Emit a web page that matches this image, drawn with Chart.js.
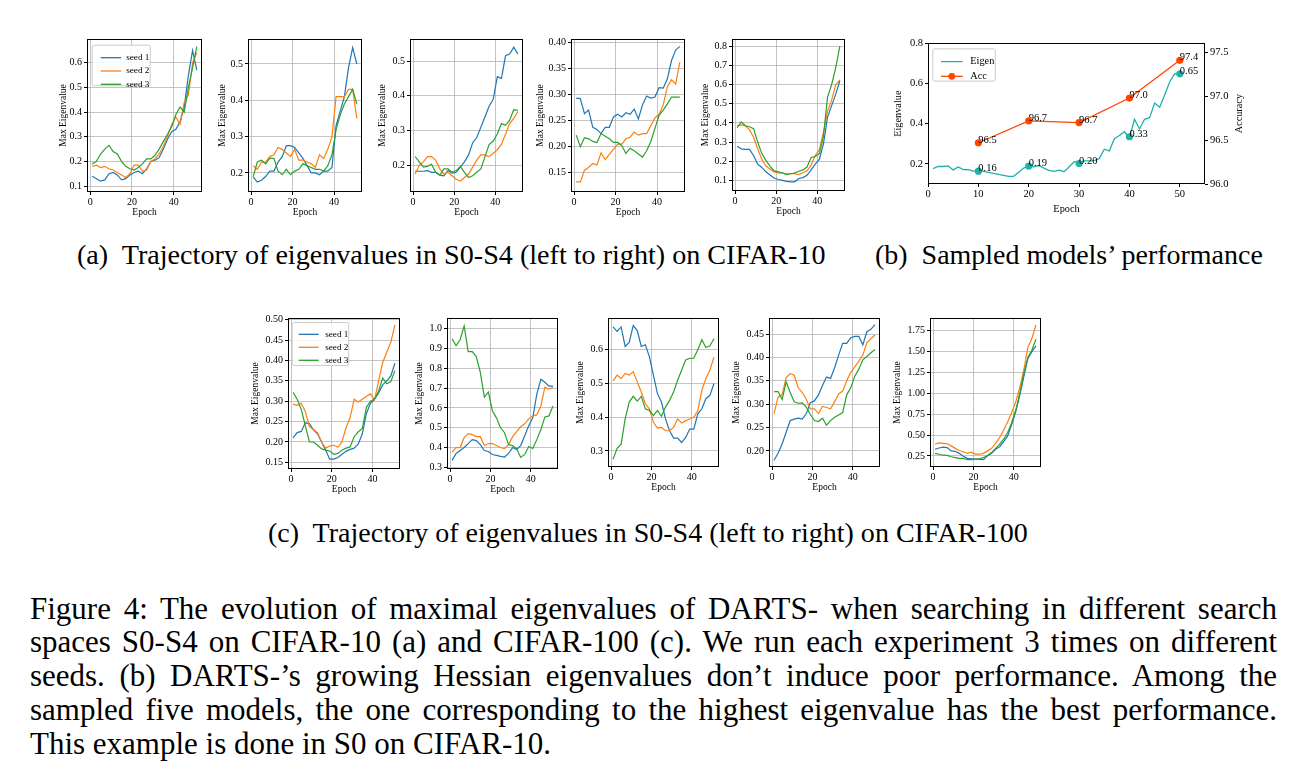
<!DOCTYPE html>
<html>
<head>
<meta charset="utf-8">
<script src="https://cdn.jsdelivr.net/npm/chart.js@4.4.1/dist/chart.umd.min.js"></script>
<style>
  body { margin: 0; background: #fff; width: 1307px; height: 775px; position: relative; overflow: hidden; font-family: "Liberation Serif", "Times New Roman", serif; color: #000; }
  .panel { position: absolute; }
  .cap { position: absolute; white-space: nowrap; line-height: 1; }
  .fig { position: absolute; left: 30px; line-height: 1; font-size: 24.5px; white-space: nowrap; }
</style>
</head>
<body>

<div class="cap" data-w="749" style="left:77px;top:241px;font-size:23px">(a)&nbsp; Trajectory of eigenvalues in S0-S4 (left to right) on CIFAR-10</div>
<div class="cap" data-w="388" style="left:875px;top:241px;font-size:23px">(b)&nbsp; Sampled models’ performance</div>
<div class="cap" data-w="760" style="left:268px;top:519px;font-size:23px">(c)&nbsp; Trajectory of eigenvalues in S0-S4 (left to right) on CIFAR-100</div>

<div class="fig" data-c="609" data-j="1">Figure 4: The evolution of maximal eigenvalues of DARTS- when searching in different search</div>
<div class="fig" data-c="642" data-j="1">spaces S0-S4 on CIFAR-10 (a) and CIFAR-100 (c). We run each experiment 3 times on different</div>
<div class="fig" data-c="676" data-j="1">seeds. (b) DARTS-’s growing Hessian eigenvalues don’t induce poor performance. Among the</div>
<div class="fig" data-c="710" data-j="1">sampled five models, the one corresponding to the highest eigenvalue has the best performance.</div>
<div class="fig" data-c="744" data-j="0" id="figLast">This example is done in S0 on CIFAR-10.</div>

<script>
// epochs sampled every 2 epochs
const epochs = [1,3,5,7,9,11,13,15,17,19,21,23,25,27,29,31,33,35,37,39,41,43,45,47,49,51];
const seedNames = ['seed 1', 'seed 2', 'seed 3'];
const epochTicks = [0, 20, 40];

// (a) CIFAR-10, S0..S4
const a0s1 = [.14,.13,.12,.125,.15,.155,.145,.125,.13,.145,.155,.16,.15,.17,.2,.205,.215,.25,.29,.32,.33,.36,.42,.55,.65,.57];
const a0s2 = [.18,.185,.175,.18,.17,.165,.155,.145,.135,.15,.185,.185,.16,.165,.2,.21,.23,.26,.3,.35,.38,.35,.44,.47,.6,.64];
const a0s3 = [.19,.2,.23,.25,.265,.24,.23,.2,.18,.17,.165,.175,.19,.21,.21,.225,.25,.28,.31,.34,.39,.42,.4,.5,.58,.665];

const a1s1 = [.189,.175,.18,.19,.205,.205,.23,.245,.275,.275,.27,.255,.24,.22,.2,.2,.195,.205,.205,.215,.33,.37,.41,.49,.545,.5];
const a1s2 = [.22,.21,.23,.23,.245,.25,.27,.265,.255,.245,.265,.235,.235,.23,.225,.215,.25,.24,.265,.3,.41,.41,.41,.43,.43,.35];
const a1s3 = [.19,.23,.235,.225,.24,.24,.205,.195,.21,.195,.205,.21,.225,.22,.215,.21,.21,.205,.22,.25,.32,.36,.39,.41,.43,.39];

const a2s1 = [.183,.183,.183,.185,.18,.18,.172,.17,.185,.178,.18,.195,.21,.23,.265,.28,.31,.34,.37,.39,.455,.45,.515,.52,.54,.52];
const a2s2 = [.175,.2,.21,.225,.225,.215,.19,.175,.18,.17,.16,.155,.165,.175,.195,.215,.23,.23,.225,.235,.245,.26,.29,.32,.335,.355];
const a2s3 = [.225,.21,.195,.197,.203,.18,.172,.19,.19,.18,.185,.197,.18,.165,.17,.18,.19,.225,.26,.27,.29,.32,.315,.33,.36,.358];

const a3s1 = [.293,.292,.263,.27,.237,.233,.225,.237,.237,.257,.262,.257,.265,.262,.272,.253,.28,.297,.293,.295,.313,.312,.33,.365,.385,.392];
const a3s2 = [.133,.132,.155,.16,.168,.165,.188,.175,.185,.195,.205,.205,.215,.218,.228,.222,.225,.225,.24,.255,.262,.28,.315,.328,.32,.362];
const a3s3 = [.222,.2,.217,.215,.21,.208,.225,.22,.215,.208,.208,.202,.187,.197,.192,.186,.18,.192,.21,.235,.26,.27,.282,.295,.295,.295];

const a4s1 = [.278,.265,.262,.262,.23,.185,.168,.145,.128,.113,.105,.1,.095,.093,.093,.11,.115,.127,.155,.185,.21,.29,.43,.49,.55,.62];
const a4s2 = [.385,.39,.385,.365,.325,.265,.21,.175,.16,.145,.14,.138,.135,.135,.135,.13,.14,.15,.18,.23,.26,.35,.46,.52,.6,.625];
const a4s3 = [.375,.405,.385,.38,.37,.3,.24,.205,.175,.15,.145,.14,.13,.135,.138,.148,.155,.17,.22,.225,.24,.33,.535,.6,.69,.8];

// (c) CIFAR-100, S0..S4
const c0s1 = [.21,.223,.226,.247,.245,.23,.22,.2,.18,.158,.158,.162,.17,.177,.182,.185,.195,.22,.27,.295,.305,.32,.34,.35,.362,.393];
const c0s2 = [.293,.29,.295,.275,.238,.23,.223,.2,.185,.19,.192,.187,.2,.235,.26,.305,.298,.305,.312,.318,.303,.35,.395,.42,.445,.487];
const c0s3 = [.322,.305,.28,.24,.2,.2,.192,.183,.18,.178,.17,.172,.18,.185,.188,.213,.225,.233,.285,.3,.305,.325,.357,.343,.348,.375];

const c1s1 = [.335,.37,.385,.4,.42,.44,.435,.415,.385,.38,.365,.36,.355,.352,.37,.4,.39,.41,.46,.51,.55,.67,.745,.73,.71,.71];
const c1s2 = [.375,.4,.4,.45,.47,.465,.455,.455,.41,.42,.42,.41,.4,.395,.415,.455,.48,.505,.52,.545,.56,.565,.61,.705,.695,.705];
const c1s3 = [.95,.915,.945,1.015,.885,.885,.86,.78,.655,.68,.585,.55,.5,.475,.415,.41,.395,.35,.365,.405,.395,.44,.49,.555,.56,.61];

const c2s1 = [.668,.655,.668,.61,.622,.672,.657,.61,.615,.58,.525,.47,.445,.395,.36,.338,.338,.325,.34,.365,.365,.41,.425,.455,.465,.5];
const c2s2 = [.508,.525,.515,.53,.525,.535,.505,.475,.44,.425,.385,.368,.37,.36,.36,.37,.395,.383,.39,.395,.4,.42,.48,.515,.54,.578];
const c2s3 = [.275,.308,.32,.395,.445,.462,.448,.462,.425,.42,.405,.42,.403,.43,.45,.475,.51,.54,.57,.575,.575,.6,.63,.607,.612,.633];

const c3s1 = [.18,.195,.215,.24,.265,.268,.27,.268,.28,.303,.307,.32,.34,.358,.355,.378,.405,.43,.43,.442,.445,.445,.427,.455,.46,.47];
const c3s2 = [.28,.315,.32,.357,.365,.362,.335,.325,.31,.29,.29,.28,.295,.293,.29,.305,.322,.328,.35,.368,.38,.392,.405,.432,.44,.448];
const c3s3 = [.327,.327,.31,.348,.325,.305,.302,.303,.293,.278,.265,.263,.27,.255,.265,.272,.277,.282,.32,.335,.36,.375,.395,.402,.41,.417];

const c4s1 = [.33,.345,.355,.35,.31,.305,.28,.245,.22,.215,.21,.21,.205,.25,.28,.33,.36,.42,.49,.63,.78,.98,1.2,1.42,1.5,1.57];
const c4s2 = [.39,.405,.4,.395,.37,.34,.315,.3,.28,.295,.27,.27,.28,.31,.34,.4,.47,.56,.66,.77,.9,1.07,1.28,1.55,1.66,1.82];
const c4s3 = [.28,.27,.258,.255,.24,.23,.22,.22,.205,.205,.21,.215,.23,.255,.29,.34,.39,.45,.53,.65,.8,1.0,1.24,1.43,1.52,1.65];

// (b) sampled models
const bEpochs = [1,2,3,4,5,6,7,8,9,10,11,12,13,14,15,16,17,18,19,20,21,22,23,24,25,26,27,28,29,30,31,32,33,34,35,36,37,38,39,40,41,42,43,44,45,46,47,48,49,50];
const bEigen = [.177,.187,.187,.19,.17,.185,.172,.171,.164,.164,.163,.158,.153,.148,.143,.138,.138,.158,.179,.19,.185,.192,.179,.168,.163,.169,.161,.185,.211,.206,.215,.215,.216,.226,.273,.265,.325,.341,.36,.33,.422,.374,.422,.43,.503,.482,.544,.609,.649,.649];
const sampleEpochs = [10, 20, 30, 40, 50];
const sampleEigen = [0.164, 0.189, 0.2015, 0.335, 0.648];
const sampleEigenLabels = ['0.16', '0.19', '0.20', '0.33', '0.65'];
const sampleAcc = [96.47, 96.72, 96.70, 96.98, 97.41];
const sampleAccLabels = ['96.5', '96.7', '96.7', '97.0', '97.4'];

// tick values
const ticksA0 = [0.1,0.2,0.3,0.4,0.5,0.6];
const ticksA1 = [0.2,0.3,0.4,0.5];
const ticksA2 = [0.2,0.3,0.4,0.5];
const ticksA3 = [0.15,0.20,0.25,0.30,0.35,0.40];
const ticksA4 = [0.1,0.2,0.3,0.4,0.5,0.6,0.7,0.8];
const ticksC0 = [0.15,0.20,0.25,0.30,0.35,0.40,0.45,0.50];
const ticksC1 = [0.3,0.4,0.5,0.6,0.7,0.8,0.9,1.0];
const ticksC2 = [0.3,0.4,0.5,0.6];
const ticksC3 = [0.20,0.25,0.30,0.35,0.40,0.45];
const ticksC4 = [0.25,0.50,0.75,1.00,1.25,1.50,1.75];
const ticksBEigen = [0.2,0.4,0.6,0.8];
const ticksBAcc = [96.0,96.5,97.0,97.5];
const ticksBEpoch = [0,10,20,30,40,50];

const colors = ['#1f77b4', '#ff7f0e', '#2ca02c'];
const FONT = '"Liberation Serif", "Times New Roman", serif';

const deco = {
  id: 'deco',
  afterDraw(chart, args, o) {
    const ctx = chart.ctx, a = chart.chartArea;
    ctx.save();
    ctx.strokeStyle = '#000';
    ctx.lineWidth = 1;
    ctx.strokeRect(Math.round(a.left) + 0.5, Math.round(a.top) + 0.5, Math.round(a.right - a.left) - 1, Math.round(a.bottom - a.top) - 1);
    ctx.fillStyle = '#000';
    ctx.font = o.labelSize + 'px ' + FONT;
    ctx.textAlign = 'center';
    ctx.textBaseline = 'middle';
    ctx.fillText(o.xlabel, (a.left + a.right) / 2, a.bottom + o.xoff);
    ctx.save();
    ctx.translate(a.left - o.yoff, (a.top + a.bottom) / 2);
    ctx.rotate(-Math.PI / 2);
    ctx.fillText(o.ylabel, 0, 0);
    ctx.restore();
    if (o.y2label) {
      ctx.save();
      ctx.translate(a.right + o.y2off, (a.top + a.bottom) / 2);
      ctx.rotate(-Math.PI / 2);
      ctx.fillText(o.y2label, 0, 0);
      ctx.restore();
    }
    // point annotations
    if (o.notes) {
      ctx.font = o.noteSize + 'px ' + FONT;
      ctx.textAlign = 'left';
      ctx.textBaseline = 'alphabetic';
      o.notes.forEach(n => {
        const meta = chart.getDatasetMeta(n.ds);
        meta.data.forEach((pt, i) => ctx.fillText(n.labels[i], pt.x, pt.y));
      });
    }
    // legend
    if (o.legend) {
      const L = o.legend;
      const x = a.left + L.x, y = a.top + L.y;
      ctx.fillStyle = 'rgba(255,255,255,0.85)';
      ctx.strokeStyle = '#cccccc';
      ctx.lineWidth = 1;
      ctx.beginPath();
      ctx.roundRect(x + 0.5, y + 0.5, L.w, L.h, 2);
      ctx.fill();
      ctx.stroke();
      ctx.font = L.size + 'px ' + FONT;
      ctx.textAlign = 'left';
      ctx.textBaseline = 'middle';
      L.items.forEach((it, i) => {
        const yy = y + L.y0 + i * L.dy;
        ctx.strokeStyle = it.color;
        ctx.lineWidth = it.width || 1.3;
        ctx.beginPath();
        ctx.moveTo(x + L.l0, yy);
        ctx.lineTo(x + L.l1, yy);
        ctx.stroke();
        if (it.marker) {
          ctx.fillStyle = it.color;
          ctx.beginPath();
          ctx.arc(x + (L.l0 + L.l1) / 2, yy, 3.4, 0, Math.PI * 2);
          ctx.fill();
        }
        ctx.fillStyle = '#000';
        ctx.fillText(it.text, x + L.tx, yy);
      });
    }
    ctx.restore();
  }
};

function fixedTicks(vals) {
  return function (scale) { scale.ticks = vals.map(v => ({ value: v })); };
}

function axisY(min, max, vals, dec, size, grid, pos) {
  return {
    type: 'linear', position: pos || 'left', min: min, max: max,
    afterBuildTicks: fixedTicks(vals),
    afterFit: s => { s.width = 46; },
    border: { display: false },
    grid: { display: true, drawOnChartArea: grid, color: 'rgba(176,176,176,0.75)', lineWidth: 1, tickColor: '#000', tickLength: 3 },
    ticks: { color: '#000', padding: 2, font: { family: FONT, size: size }, callback: v => Number(v).toFixed(dec) }
  };
}

function axisX(min, max, vals, size, grid) {
  return {
    type: 'linear', min: min, max: max,
    afterBuildTicks: fixedTicks(vals),
    afterFit: s => { s.height = 32; },
    border: { display: false },
    grid: { display: true, drawOnChartArea: grid, color: 'rgba(176,176,176,0.75)', lineWidth: 1, tickColor: '#000', tickLength: 3 },
    ticks: { color: '#000', padding: 1, maxRotation: 0, font: { family: FONT, size: size }, callback: v => String(v) }
  };
}

function place(box, padR) {
  const div = document.createElement('div');
  div.className = 'panel';
  const left = box[0] - 46, top = box[1] - 6;
  const w = box[2] - box[0] + 46 + padR, h = box[3] - box[1] + 6 + 32;
  div.style.left = left + 'px';
  div.style.top = top + 'px';
  const cv = document.createElement('canvas');
  cv.width = w; cv.height = h;
  cv.style.width = w + 'px'; cv.style.height = h + 'px';
  div.appendChild(cv);
  document.body.appendChild(div);
  return cv;
}

const seedLegend = () => ({
  items: seedNames.map((n, i) => ({ text: n, color: colors[i] })), size: 9.2
});

const panels = [
  { box: [87, 37, 202, 192], y: [0.076, 0.696], ticks: ticksA0, dec: 1, s: [a0s1, a0s2, a0s3], yoff: 24,
    legend: { x: 4.7, y: 5.7, w: 58, h: 40.5, y0: 13, dy: 13.3, l0: 9, l1: 29.5, tx: 34.5 } },
  { box: [248, 37, 362, 192], y: [0.1475, 0.5688], ticks: ticksA1, dec: 1, s: [a1s1, a1s2, a1s3], yoff: 26 },
  { box: [410, 37, 523, 192], y: [0.1234, 0.5633], ticks: ticksA2, dec: 1, s: [a2s1, a2s2, a2s3], yoff: 28 },
  { box: [571, 37, 685, 192], y: [0.1131, 0.4062], ticks: ticksA3, dec: 2, s: [a3s1, a3s2, a3s3], yoff: 31 },
  { box: [732, 37, 845, 191], y: [0.045, 0.8376], ticks: ticksA4, dec: 1, s: [a4s1, a4s2, a4s3], yoff: 27 },
  { box: [288, 316, 400, 469], y: [0.1338, 0.504], ticks: ticksC0, dec: 2, s: [c0s1, c0s2, c0s3], yoff: 33,
    legend: { x: 3.7, y: 4, w: 56.5, h: 43, y0: 12.3, dy: 13, l0: 7, l1: 27, tx: 33.5 } },
  { box: [447, 316, 558, 469], y: [0.2915, 1.0549], ticks: ticksC1, dec: 1, s: [c1s1, c1s2, c1s3], yoff: 28 },
  { box: [608, 316, 719, 467], y: [0.2524, 0.6944], ticks: ticksC2, dec: 1, s: [c2s1, c2s2, c2s3], yoff: 28 },
  { box: [769, 316, 880, 467], y: [0.1657, 0.4843], ticks: ticksC3, dec: 2, s: [c3s1, c3s2, c3s3], yoff: 33 },
  { box: [930, 316, 1041, 467], y: [0.1167, 1.9035], ticks: ticksC4, dec: 2, s: [c4s1, c4s2, c4s3], yoff: 33 }
];

panels.forEach(p => {
  const cv = place(p.box, 6);
  const opts = { xlabel: 'Epoch', ylabel: 'Max Eigenvalue', xoff: 20, yoff: p.yoff, labelSize: 9.5 };
  if (p.legend) opts.legend = Object.assign(seedLegend(), p.legend);
  new Chart(cv.getContext('2d'), {
    type: 'line',
    data: {
      datasets: p.s.map((vals, i) => ({
        label: seedNames[i],
        data: epochs.map((e, k) => ({ x: e, y: vals[k] })),
        borderColor: colors[i], borderWidth: 1.2, pointRadius: 0, tension: 0, fill: false,
        order: 2 - i
      }))
    },
    options: {
      responsive: false, animation: false, devicePixelRatio: 1,
      layout: { padding: { top: 6, right: 6, left: 0, bottom: 0 } },
      plugins: { legend: { display: false }, tooltip: { enabled: false }, deco: opts },
      scales: { x: axisX(-1.5, 53.5, epochTicks, 10, true), y: axisY(p.y[0], p.y[1], p.ticks, p.dec, 10, true) }
    },
    plugins: [deco]
  });
});

// (b) Eigen vs Acc
(function () {
  const box = [928, 41, 1205, 184];
  const cv = place(box, 46);
  const y2 = axisY(96.0, 97.604, ticksBAcc, 1, 10.5, false, 'right');
  new Chart(cv.getContext('2d'), {
    type: 'line',
    data: {
      datasets: [
        { label: 'Eigen', data: bEpochs.map((e, k) => ({ x: e, y: bEigen[k] })), yAxisID: 'y',
          borderColor: '#20b2aa', borderWidth: 1.3, pointRadius: 0, tension: 0, order: 3 },
        { label: 'EigenSample', data: sampleEpochs.map((e, k) => ({ x: e, y: sampleEigen[k] })), yAxisID: 'y',
          showLine: false, pointRadius: 3.6, pointBackgroundColor: '#20b2aa', pointBorderWidth: 0, borderColor: '#20b2aa', order: 2 },
        { label: 'Acc', data: sampleEpochs.map((e, k) => ({ x: e, y: sampleAcc[k] })), yAxisID: 'y1',
          borderColor: '#ff4500', borderWidth: 1.3, pointRadius: 3.6, pointBackgroundColor: '#ff4500', pointBorderWidth: 0, tension: 0, order: 1 }
      ]
    },
    options: {
      responsive: false, animation: false, devicePixelRatio: 1,
      layout: { padding: { top: 6, right: 0, left: 0, bottom: 0 } },
      plugins: {
        legend: { display: false }, tooltip: { enabled: false },
        deco: {
          xlabel: 'Epoch', ylabel: 'Eigenvalue', y2label: 'Accuracy', xoff: 25, yoff: 30, y2off: 34, labelSize: 10.3,
          noteSize: 10.5,
          notes: [{ ds: 1, labels: sampleEigenLabels }, { ds: 2, labels: sampleAccLabels }],
          legend: { x: 4.3, y: 5, w: 62.5, h: 32.3, y0: 13.3, dy: 14.7, l0: 8.7, l1: 30.3, tx: 38, size: 10.3,
                    items: [{ text: 'Eigen', color: '#20b2aa' }, { text: 'Acc', color: '#ff4500', marker: true }] }
        }
      },
      scales: {
        x: axisX(0, 55, ticksBEpoch, 10.5, false),
        y: axisY(0.1, 0.8, ticksBEigen, 1, 10.5, false),
        y1: Object.assign(y2, { afterFit: s => { s.width = 46; } })
      }
    },
    plugins: [deco]
  });
})();

// fit caption widths to the reference
document.querySelectorAll('.cap').forEach(el => {
  const target = +el.dataset.w;
  const fs = parseFloat(el.style.fontSize);
  const w = el.getBoundingClientRect().width;
  el.style.fontSize = (fs * target / w).toFixed(2) + 'px';
});

// figure caption: size from the last (unjustified) line, then justify the others to 1247px
const lastLine = document.getElementById('figLast');
const figSize = 24.5 * 521 / lastLine.getBoundingClientRect().width;
document.querySelectorAll('.fig').forEach(el => {
  el.style.fontSize = figSize.toFixed(2) + 'px';
  el.style.top = (+el.dataset.c - 0.51 * figSize).toFixed(1) + 'px';
  if (el.dataset.j === '1') {
    const w = el.getBoundingClientRect().width;
    const gaps = el.textContent.split(' ').length - 1;
    el.style.wordSpacing = ((1247 - w) / gaps).toFixed(2) + 'px';
  }
});
</script>
</body>
</html>
